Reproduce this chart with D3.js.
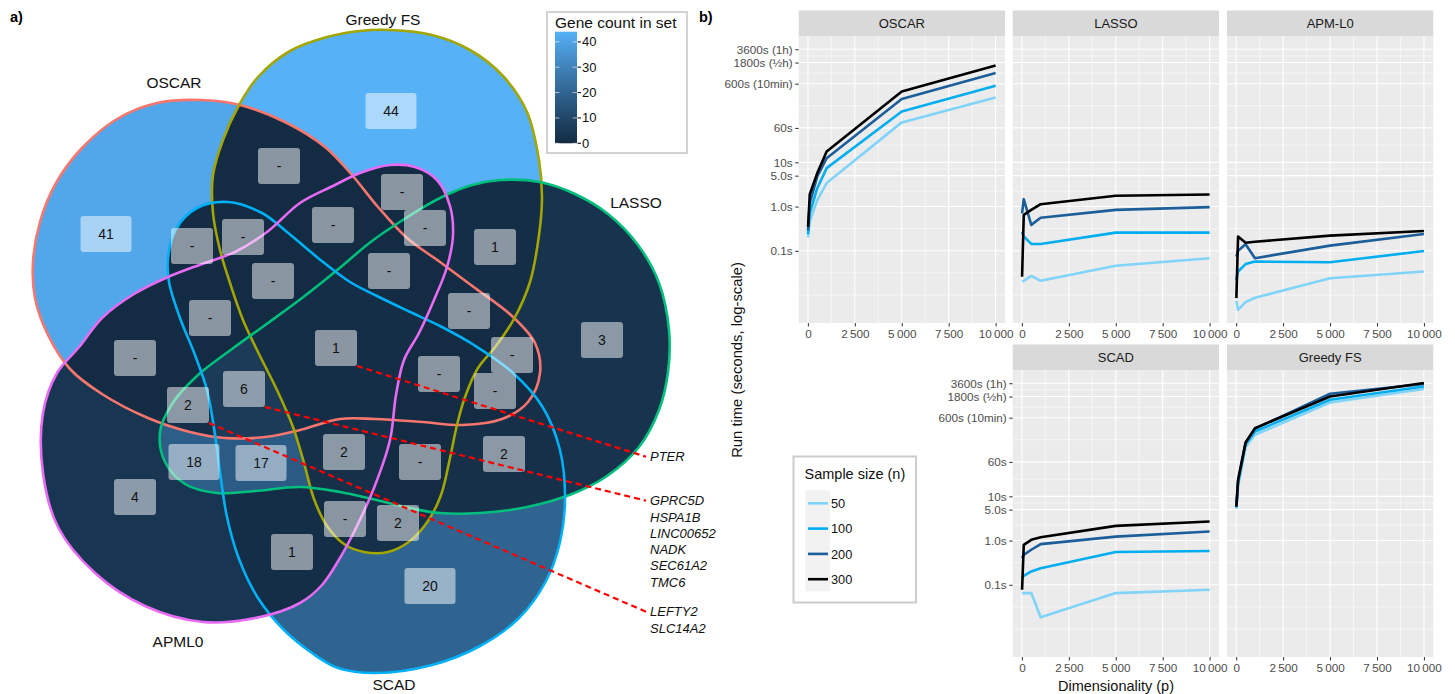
<!DOCTYPE html>
<html>
<head>
<meta charset="utf-8">
<script src="https://cdn.jsdelivr.net/npm/d3@7"></script>
<style>
  body { margin: 0; background: #fff; }
  svg { display: block; font-family: "Liberation Sans", Arial, Helvetica, sans-serif; }
</style>
</head>
<body>
<svg id="fig" width="1455" height="694"></svg>
<script>
// ---------------- Panel a: five-set Venn of selected genes ----------------
const setNames = ["OSCAR", "Greedy FS", "LASSO", "SCAD", "APML0"];
const setColors = ["#F8766D", "#A3A500", "#00BF7D", "#00B0F6", "#E76BF3"];

// gene count shown in each region (0 is printed as "-")
const regionCounts = [44, 41, 0, 0, 0, 0, 0, 0, 1, 0, 0, 0, 0, 3, 1, 0,
                      0, 0, 0, 2, 6, 18, 17, 2, 0, 2, 4, 0, 2, 1, 20];

// genes picked out by call-outs, keyed by the region they belong to
const calloutRegion = [14, 20, 19];
const calloutGenes = [
  ["PTER"],
  ["GPRC5D", "HSPA1B", "LINC00652", "NADK", "SEC61A2", "TMC6"],
  ["LEFTY2", "SLC14A2"]
];

// ---------------- Panel b: run time vs dimensionality ----------------
const methods = ["OSCAR", "LASSO", "APM-L0", "SCAD", "Greedy FS"];
const sampleSizes = [50, 100, 200, 300];
const dimensions = [10, 100, 500, 1000, 5000, 10000];

// run time in seconds, one row per sample size (50, 100, 200, 300)
const timeOSCAR = [
  [0.20, 0.46, 1.4, 3.4, 80, 294],
  [0.24, 0.71, 2.6, 7.4, 141, 540],
  [0.29, 1.2, 4.8, 12.4, 270, 1040],
  [0.35, 1.9, 5.7, 17.6, 400, 1550]
];
const timeLASSO = [
  [0.020, 0.021, 0.027, 0.021, 0.046, 0.068],
  [0.27, 0.21, 0.143, 0.143, 0.258, 0.258],
  [0.70, 1.47, 0.385, 0.56, 0.84, 0.97],
  [0.026, 0.65, 0.84, 1.13, 1.75, 1.87]
];
const timeAPML0 = [
  [0.0074, 0.0046, 0.0069, 0.0087, 0.024, 0.034],
  [0.022, 0.034, 0.050, 0.057, 0.055, 0.099],
  [0.074, 0.10, 0.141, 0.068, 0.131, 0.24],
  [0.0085, 0.21, 0.152, 0.16, 0.22, 0.28]
];
const timeSCAD = [
  [0.065, 0.065, 0.065, 0.0184, 0.065, 0.077],
  [0.141, 0.16, 0.20, 0.237, 0.55, 0.58],
  [0.40, 0.475, 0.62, 0.83, 1.23, 1.6],
  [0.077, 0.80, 1.04, 1.19, 2.15, 2.7]
];
const timeGreedy = [
  [5.3, 17, 130, 246, 1325, 2660],
  [5.6, 20, 150, 292, 1525, 3050],
  [5.8, 22, 160, 335, 2080, 3450],
  [5.9, 23.6, 165, 349, 1810, 3640]
];

const yBreaks = [0.1, 1, 5, 10, 60, 600, 1800, 3600];
const yLabels = ["0.1s", "1.0s", "5.0s", "10s", "60s", "600s (10min)", "1800s (\u00BDh)", "3600s (1h)"];
const xBreaks = [0, 2500, 5000, 7500, 10000];

// =====================================================================
const W = 1455, H = 694;
const svg = d3.select("#fig");
const defs = svg.append("defs");

// ---------- Venn geometry: outline of each set ----------
const setOutlines = [
  // OSCAR
  [[200,100],[240,105],[285,122],[325,147],[352,175],[378,207],[407,238],[440,262],[475,288],
   [512,316],[535,343],[540,373],[528,402],[502,419],[462,425],[423,422],[375,419],[340,419],
   [300,430],[265,437],[225,438],[190,432],[148,418],[102,394],[70,369],[48,335],[35,298],
   [33,262],[40,222],[56,183],[82,148],[117,119],[157,103]],
  // Greedy FS
  [[390,30],[432,35],[470,50],[503,76],[527,112],[539,160],[542,197],[539,235],[530,282],
   [514,319],[496,346],[478,368],[465,397],[457,425],[450,458],[441,495],[428,521],[410,541],
   [388,552],[364,552],[344,544],[327,526],[314,499],[304,463],[293,427],[277,390],[258,352],
   [243,320],[230,283],[220,250],[213,213],[213,175],[223,140],[238,107],[258,77],[290,51],
   [327,37],[360,31]],
  // LASSO
  [[500,180],[540,182],[575,194],[608,214],[638,245],[659,283],[669,330],[668,372],[659,410],
   [639,447],[607,476],[572,494],[527,507],[480,513],[440,513],[405,507],[372,499],[340,492],
   [300,487],[255,491],[217,493],[185,484],[165,462],[160,432],[172,404],[198,375],[232,349],
   [268,323],[302,298],[336,271],[372,241],[406,218],[440,198],[472,185]],
  // SCAD
  [[228,202],[262,213],[287,232],[318,258],[350,282],[377,296],[408,311],[440,326],[474,345],
   [512,372],[542,406],[560,450],[565,500],[560,542],[546,581],[519,618],[480,646],[432,665],
   [376,673],[338,668],[312,653],[283,629],[258,598],[239,559],[227,517],[220,472],[214,428],
   [207,390],[195,355],[180,318],[169,282],[168,258],[176,229],[197,208]],
  // APML0
  [[390,165],[415,167],[437,180],[450,206],[453,235],[447,267],[434,300],[419,333],[404,360],
   [396,395],[390,440],[374,488],[356,528],[340,558],[322,585],[300,603],[260,617],[203,622],
   [145,606],[95,573],[58,527],[43,473],[43,413],[57,373],[80,346],[102,318],[134,294],
   [168,277],[202,264],[235,252],[267,232],[300,203],[333,186],[360,173]]
];
const regionLabelXY = [[391,111],[106,234],[279,166],[402,192],[192,246],[243,237],[333,225],
  [425,228],[495,247],[273,281],[389,271],[210,318],[469,311],[602,340],[336,348],[135,358],
  [439,374],[512,355],[495,391],[188,405],[244,389],[194,462],[261,463],[344,452],[420,462],
  [504,454],[135,497],[345,519],[398,523],[292,552],[430,586]];
const setLabelXY = [[174,82],[383,19],[636,202],[394,684],[178,641]];
const calloutTextY = [456.7, 500.7, 611.7];

const maxCount = d3.max(regionCounts);
const countColor = d3.scaleLinear().domain([0, maxCount])
  .range(["#132B43", "#56B1F7"]).interpolate(d3.interpolateLab);

const vennG = svg.append("g");
const outline = d3.line().curve(d3.curveCatmullRomClosed.alpha(0.5));
const setPaths = setOutlines.map(o => outline(o));
setPaths.forEach((d, i) =>
  defs.append("clipPath").attr("id", `clip-set-${i}`).append("path").attr("d", d));

// sampled polygons, used to find which sets hold each region label
const probe = vennG.append("path");
const setPolys = setPaths.map(d => {
  probe.attr("d", d);
  const node = probe.node(), L = node.getTotalLength();
  return d3.range(0, L, 1.5).map(t => { const p = node.getPointAtLength(t); return [p.x, p.y]; });
});
probe.remove();

// union of all sets in the colour of an empty region
vennG.append("g").selectAll("path").data(setPaths).join("path")
  .attr("d", d => d).attr("fill", countColor(0));

// each non-empty region: clip to its sets, mask out the others
regionCounts.forEach((c, k) => {
  if (c === 0) return;
  const pt = regionLabelXY[k];
  const inside = setPolys.map(pg => d3.polygonContains(pg, pt));
  const mask = defs.append("mask").attr("id", `mask-region-${k}`)
    .attr("maskUnits", "userSpaceOnUse").attr("x", 0).attr("y", 0)
    .attr("width", W).attr("height", H);
  mask.append("rect").attr("width", W).attr("height", H).attr("fill", "#fff");
  inside.forEach((v, i) => { if (!v) mask.append("path").attr("d", setPaths[i]).attr("fill", "#000"); });
  let g = vennG.append("g");
  inside.forEach((v, i) => { if (v) g = g.append("g").attr("clip-path", `url(#clip-set-${i})`); });
  g.append("rect").attr("width", 700).attr("height", H)
    .attr("fill", countColor(c)).attr("mask", `url(#mask-region-${k})`);
});

// set outlines
vennG.append("g").selectAll("path").data(setPaths).join("path")
  .attr("d", d => d).attr("fill", "none")
  .attr("stroke", (d, i) => setColors[i]).attr("stroke-width", 2.6);

// set names
vennG.append("g").selectAll("text").data(setNames).join("text")
  .attr("x", (d, i) => setLabelXY[i][0]).attr("y", (d, i) => setLabelXY[i][1] + 5.5)
  .attr("text-anchor", "middle").attr("font-size", 15.5).attr("fill", "#111")
  .text(d => d);

// region count labels
const boxW = s => 42 + 9 * (s.length - 1), boxH = 36;
const labelG = vennG.append("g");
regionCounts.forEach((c, k) => {
  const [x, y] = regionLabelXY[k];
  const s = c === 0 ? "-" : String(c);
  const w = boxW(s);
  labelG.append("rect").attr("x", x - w / 2).attr("y", y - boxH / 2)
    .attr("width", w).attr("height", boxH).attr("rx", 3)
    .attr("fill", "#fff").attr("fill-opacity", 0.5);
  labelG.append("text").attr("x", x).attr("y", y + 5)
    .attr("text-anchor", "middle").attr("font-size", 14).attr("fill", "#111").text(s);
});

// gene call-outs
const calloutG = vennG.append("g");
calloutRegion.forEach((k, j) => {
  const [x, y] = regionLabelXY[k];
  const s = regionCounts[k] === 0 ? "-" : String(regionCounts[k]);
  calloutG.append("line")
    .attr("x1", x + boxW(s) / 2).attr("y1", y + boxH / 2)
    .attr("x2", 646).attr("y2", calloutTextY[j])
    .attr("stroke", "#FF0000").attr("stroke-width", 2.2).attr("stroke-dasharray", "6,4");
  calloutGenes[j].forEach((gname, r) => {
    calloutG.append("text").attr("x", 650).attr("y", calloutTextY[j] + 4.5 + r * 16.3)
      .attr("font-size", 13).attr("font-style", "italic").attr("fill", "#111").text(gname);
  });
});

// colour bar legend
const cb = { x: 555, y: 31.7, w: 22, h: 111.6 };
svg.append("rect").attr("x", 547).attr("y", 12).attr("width", 140).attr("height", 141)
  .attr("fill", "#fff").attr("stroke", "#d2d2d2").attr("stroke-width", 2);
svg.append("text").attr("x", 555).attr("y", 27.5).attr("font-size", 15.5).attr("fill", "#111")
  .text("Gene count in set");
const grad = defs.append("linearGradient").attr("id", "count-grad")
  .attr("x1", 0).attr("y1", 1).attr("x2", 0).attr("y2", 0);
d3.range(0, 1.0001, 0.1).forEach(t =>
  grad.append("stop").attr("offset", t).attr("stop-color", countColor(t * maxCount)));
svg.append("rect").attr("x", cb.x).attr("y", cb.y).attr("width", cb.w).attr("height", cb.h)
  .attr("fill", "url(#count-grad)");
const cbScale = d3.scaleLinear().domain([0, maxCount]).range([cb.y + cb.h, cb.y]);
const cbTicks = [0, 10, 20, 30, 40];
cbTicks.forEach(v => {
  const yy = cbScale(v);
  svg.append("line").attr("x1", cb.x).attr("x2", cb.x + 4.4).attr("y1", yy).attr("y2", yy)
    .attr("stroke", "#fff").attr("stroke-opacity", 0.6);
  svg.append("line").attr("x1", cb.x + cb.w - 4.4).attr("x2", cb.x + cb.w).attr("y1", yy).attr("y2", yy)
    .attr("stroke", "#fff").attr("stroke-opacity", 0.6);
  svg.append("line").attr("x1", cb.x + cb.w + 0.5).attr("x2", cb.x + cb.w + 4).attr("y1", yy).attr("y2", yy)
    .attr("stroke", "#222").attr("stroke-width", 1.2);
  svg.append("text").attr("x", cb.x + cb.w + 5).attr("y", yy + 4.5)
    .attr("font-size", 13).attr("fill", "#111").text(v);
});

// panel tags
svg.append("text").attr("x", 10).attr("y", 22).attr("font-size", 14.5).attr("font-weight", "bold").text("a)");
svg.append("text").attr("x", 699).attr("y", 22).attr("font-size", 14.5).attr("font-weight", "bold").text("b)");

// ---------- Panel b: faceted run-time lines ----------
const runTimes = {
  "OSCAR": timeOSCAR, "LASSO": timeLASSO, "APM-L0": timeAPML0,
  "SCAD": timeSCAD, "Greedy FS": timeGreedy
};
const sampleColors = ["#80D4FA", "#00AEEF", "#1B5E9A", "#000000"];
const facetCell = { "OSCAR": [0, 0], "LASSO": [1, 0], "APM-L0": [2, 0], "SCAD": [1, 1], "Greedy FS": [2, 1] };
const colLeft = [798.7, 1012.7, 1227], panelW = 206.3;
const plotTop = [36, 370], plotH = 287, stripH = 25.5;

const allTimes = methods.flatMap(m => runTimes[m].flat());
const lo = Math.log10(d3.min(allTimes)), hi = Math.log10(d3.max(allTimes));
const yPad = (hi - lo) * 0.05;
const yDomain = [Math.pow(10, lo - yPad), Math.pow(10, hi + yPad)];
const xR = d3.extent(dimensions), xPad = (xR[1] - xR[0]) * 0.05;
const xDomain = [xR[0] - xPad, xR[1] + xPad];

// minor breaks: midpoints between majors (in transformed space), extended past the ends
function minorBreaks(majors, f, finv, dom) {
  const t = majors.map(f), bd = t[1] - t[0];
  const ext = [t[0] - bd, ...t, t[t.length - 1] + bd];
  const out = [];
  for (let i = 0; i < ext.length - 1; i++) out.push((ext[i] + ext[i + 1]) / 2);
  out.push(ext[0]);
  const [a, b] = dom.map(f);
  return out.filter(v => v > a && v < b).map(finv);
}
const yMinor = minorBreaks(yBreaks, Math.log10, v => Math.pow(10, v), yDomain);
const xMinor = minorBreaks(xBreaks, v => v, v => v, xDomain);

const fmtX = d3.formatLocale({ decimal: ".", thousands: "\u2009", grouping: [3], currency: ["", ""] }).format(",");

const panelsG = svg.append("g");
methods.forEach((m, mi) => {
  const [col, row] = facetCell[m];
  const x0 = colLeft[col], y0 = plotTop[row];
  const x = d3.scaleLinear().domain(xDomain).range([x0, x0 + panelW]);
  const y = d3.scaleLog().domain(yDomain).range([y0 + plotH, y0]);
  const g = panelsG.append("g");

  // strip
  g.append("rect").attr("x", x0).attr("y", y0 - stripH).attr("width", panelW).attr("height", stripH)
    .attr("fill", "#D9D9D9");
  g.append("text").attr("x", x0 + panelW / 2).attr("y", y0 - stripH / 2 + 4.6)
    .attr("text-anchor", "middle").attr("font-size", 13).attr("fill", "#1a1a1a").text(m);

  // panel background and grid
  g.append("rect").attr("x", x0).attr("y", y0).attr("width", panelW).attr("height", plotH)
    .attr("fill", "#EBEBEB");
  const grid = g.append("g").attr("stroke", "#fff");
  yMinor.forEach(v => grid.append("line").attr("x1", x0).attr("x2", x0 + panelW)
    .attr("y1", y(v)).attr("y2", y(v)).attr("stroke-width", 0.55));
  xMinor.forEach(v => grid.append("line").attr("y1", y0).attr("y2", y0 + plotH)
    .attr("x1", x(v)).attr("x2", x(v)).attr("stroke-width", 0.55));
  yBreaks.forEach(v => grid.append("line").attr("x1", x0).attr("x2", x0 + panelW)
    .attr("y1", y(v)).attr("y2", y(v)).attr("stroke-width", 1.1));
  xBreaks.forEach(v => grid.append("line").attr("y1", y0).attr("y2", y0 + plotH)
    .attr("x1", x(v)).attr("x2", x(v)).attr("stroke-width", 1.1));

  // lines
  defs.append("clipPath").attr("id", `clip-panel-${mi}`).append("rect")
    .attr("x", x0).attr("y", y0).attr("width", panelW).attr("height", plotH);
  const line = d3.line().x((d, i) => x(dimensions[i])).y(d => y(d));
  g.append("g").attr("clip-path", `url(#clip-panel-${mi})`)
    .selectAll("path").data(runTimes[m]).join("path")
    .attr("d", d => line(d)).attr("fill", "none")
    .attr("stroke", (d, i) => sampleColors[i]).attr("stroke-width", 2.6)
    .attr("stroke-linejoin", "round");

  // x axis
  const xa = g.append("g").attr("transform", `translate(0,${y0 + plotH})`)
    .call(d3.axisBottom(x).tickValues(xBreaks).tickFormat(fmtX).tickSize(3.5).tickPadding(3));
  xa.select(".domain").remove();
  xa.selectAll("line").attr("stroke", "#333");
  xa.selectAll("text").attr("font-size", 11.7).attr("fill", "#4D4D4D")
    .attr("font-family", "Liberation Sans, Arial, sans-serif");

  // y axis on the first panel of each row
  if ((row === 0 && col === 0) || (row === 1 && col === 1)) {
    const ya = g.append("g").attr("transform", `translate(${x0},0)`)
      .call(d3.axisLeft(y).tickValues(yBreaks).tickFormat((d, i) => yLabels[i]).tickSize(3.5).tickPadding(2.5));
    ya.select(".domain").remove();
    ya.selectAll("line").attr("stroke", "#333");
    ya.selectAll("text").attr("font-size", 11.7).attr("fill", "#4D4D4D")
      .attr("font-family", "Liberation Sans, Arial, sans-serif");
  }
});

// axis titles
svg.append("text").attr("transform", "translate(742,360) rotate(-90)")
  .attr("text-anchor", "middle").attr("font-size", 14.8).attr("fill", "#111")
  .text("Run time (seconds, log-scale)");
svg.append("text").attr("x", (colLeft[0] + colLeft[2] + panelW) / 2).attr("y", 691)
  .attr("text-anchor", "middle").attr("font-size", 14.5).attr("fill", "#111")
  .text("Dimensionality (p)");

// sample size legend
const lg = svg.append("g");
lg.append("rect").attr("x", 793.5).attr("y", 456.5).attr("width", 122.5).attr("height", 146)
  .attr("fill", "#fff").attr("stroke", "#cccccc").attr("stroke-width", 2);
lg.append("text").attr("x", 804.5).attr("y", 479).attr("font-size", 14.5).attr("fill", "#111")
  .text("Sample size (n)");
lg.append("rect").attr("x", 805.3).attr("y", 490.3).attr("width", 24.7).attr("height", 101)
  .attr("fill", "#F2F2F2");
sampleSizes.forEach((n, i) => {
  const yy = 503.3 + i * 25.3;
  lg.append("line").attr("x1", 808).attr("x2", 828).attr("y1", yy).attr("y2", yy)
    .attr("stroke", sampleColors[i]).attr("stroke-width", 2.6);
  lg.append("text").attr("x", 831).attr("y", yy + 4.6).attr("font-size", 12.8).attr("fill", "#111").text(n);
});
</script>
</body>
</html>
